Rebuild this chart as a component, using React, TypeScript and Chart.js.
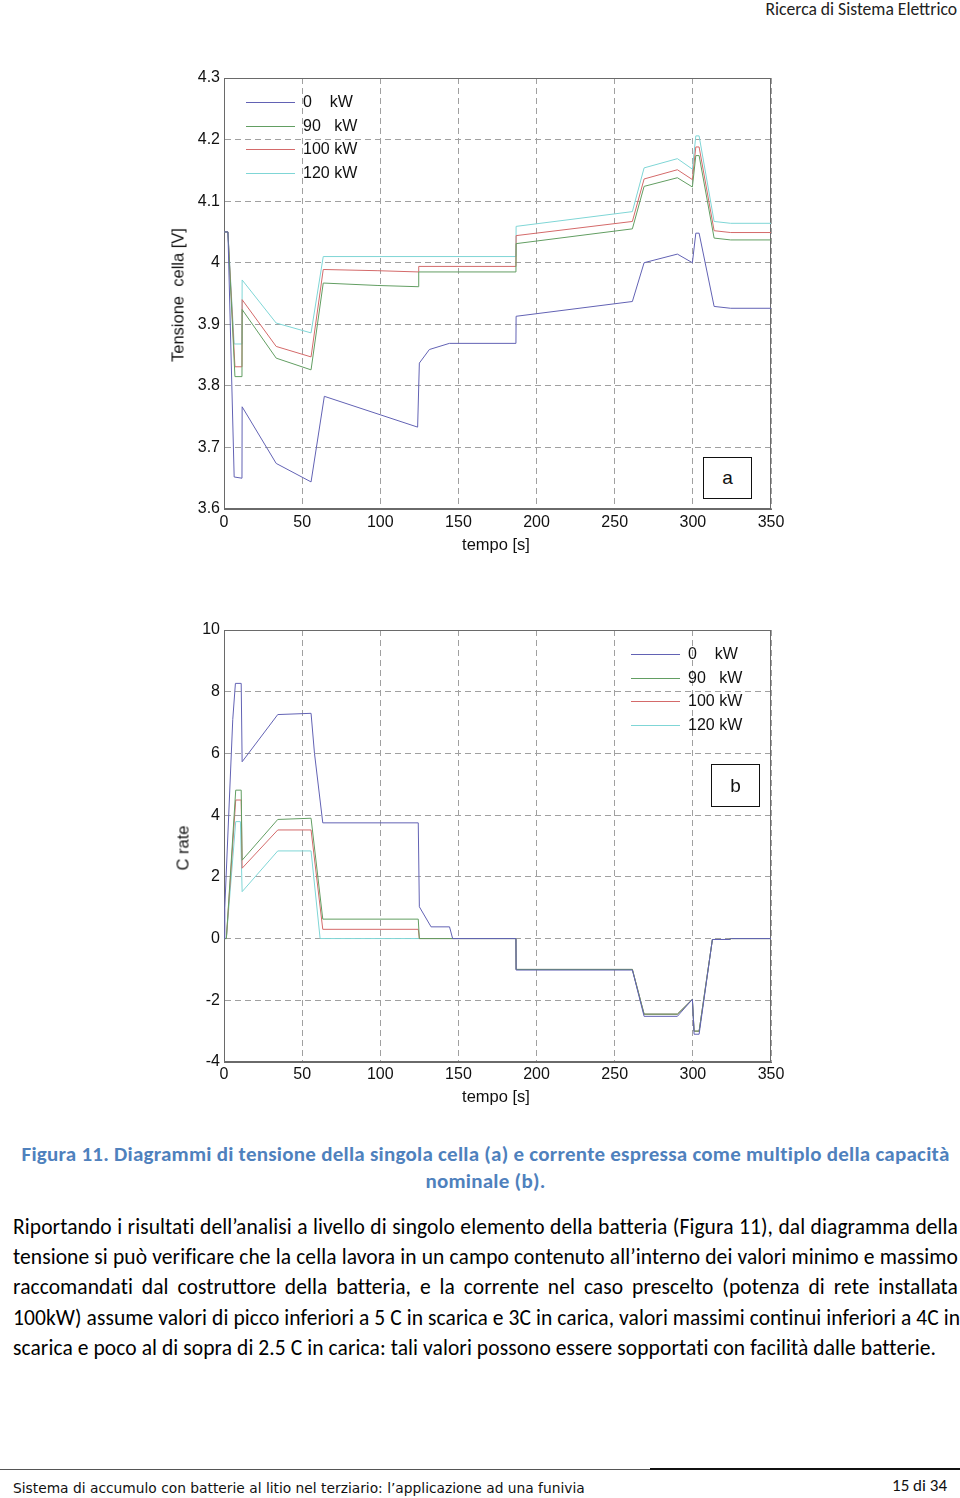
import React, { useEffect, useRef } from "react";
import { Chart, registerables } from "chart.js";

Chart.register(...registerables);

// ---------- shared ----------
const seriesLabels = ["0    kW", "90   kW", "100 kW", "120 kW"];
const seriesColors = ["#6262b4", "#629e62", "#d46a6a", "#7fd6d6"];
const xTicks = [0, 50, 100, 150, 200, 250, 300, 350];

// ---------- chart (a): cell voltage [V] ----------
const yTicksA = [3.6, 3.7, 3.8, 3.9, 4.0, 4.1, 4.2, 4.3];
const tA0 = [0, 2.5, 6.5, 11.5, 11.6, 33.4, 55.7, 64.2, 123.9, 125, 131.4, 144.2, 186.8, 186.9, 261.3, 268.8, 290.1, 299.7, 301.9, 304, 313.6, 324.2, 350];
const vA0 = [4.05, 4.05, 3.652, 3.65, 3.766, 3.674, 3.644, 3.783, 3.733, 3.837, 3.859, 3.869, 3.869, 3.913, 3.937, 4.0, 4.014, 4.0, 4.048, 4.048, 3.929, 3.926, 3.926];
const tA90 = [0, 2.5, 7, 11.5, 11.6, 33.4, 55.7, 63.5, 98.5, 124.5, 124.6, 186.8, 186.9, 261.3, 268.8, 290.1, 299.7, 301.9, 304, 313.6, 324.2, 350];
const vA90 = [4.05, 4.05, 3.815, 3.815, 3.924, 3.845, 3.826, 3.967, 3.963, 3.961, 3.985, 3.985, 4.031, 4.055, 4.124, 4.138, 4.123, 4.174, 4.174, 4.04, 4.037, 4.037];
const tA100 = [0, 2.5, 7, 11.5, 11.6, 33.4, 55.7, 63.5, 98.5, 124.5, 124.6, 186.8, 186.9, 261.3, 268.8, 290.1, 299.7, 301.9, 304, 313.6, 324.2, 350];
const vA100 = [4.05, 4.05, 3.831, 3.831, 3.94, 3.864, 3.847, 3.989, 3.987, 3.985, 3.994, 3.994, 4.044, 4.067, 4.136, 4.151, 4.135, 4.188, 4.188, 4.052, 4.049, 4.049];
const tA120 = [0, 2.5, 6.5, 11.5, 11.6, 33.4, 55.7, 63.5, 186.8, 186.9, 261.3, 268.8, 290.1, 299.7, 301.9, 304, 313.6, 324.2, 350];
const vA120 = [4.05, 4.05, 3.868, 3.868, 3.972, 3.902, 3.886, 4.01, 4.01, 4.059, 4.083, 4.154, 4.169, 4.152, 4.206, 4.206, 4.067, 4.064, 4.064];

// ---------- chart (b): C rate ----------
const yTicksB = [-4, -2, 0, 2, 4, 6, 8, 10];
const tB0 = [0, 0.5, 5.6, 7.3, 11, 11.6, 34.4, 55.7, 57.9, 63.2, 124.3, 125, 132.5, 144.3, 146.3, 186.8, 186.9, 261.3, 268.8, 290.1, 299.7, 300.8, 304, 312.5, 323.1, 324.6, 350];
const vB0 = [0, 1.0, 7.1, 8.27, 8.27, 5.73, 7.26, 7.3, 6.0, 3.75, 3.75, 1.03, 0.38, 0.38, 0, 0, -1.02, -1.02, -2.52, -2.52, -1.97, -3.1, -3.1, -0.03, -0.03, 0, 0];
const tB90 = [0, 1.5, 7.5, 11, 11.6, 34.4, 55.7, 63.2, 124.3, 125, 186.8, 186.9, 261.3, 268.8, 290.1, 299.7, 300.8, 304, 312.5, 323.1, 324.6, 350];
const vB90 = [0, 0, 4.81, 4.81, 2.54, 3.86, 3.9, 0.63, 0.63, 0, 0, -1.0, -1.0, -2.45, -2.45, -1.97, -3.0, -3.0, -0.03, -0.03, 0, 0];
const tB100 = [0, 1.5, 7.5, 11, 11.6, 34.4, 55.7, 63.2, 124.3, 125, 186.8, 186.9, 261.3, 268.8, 290.1, 299.7, 300.8, 304, 312.5, 323.1, 324.6, 350];
const vB100 = [0, 0, 4.49, 4.49, 2.28, 3.52, 3.52, 0.3, 0.3, 0, 0, -1.0, -1.0, -2.45, -2.45, -1.97, -3.0, -3.0, -0.03, -0.03, 0, 0];
const tB120 = [0, 1.5, 7.5, 10.5, 11.6, 34.4, 55.7, 61.5, 186.8, 186.9, 261.3, 268.8, 290.1, 299.7, 300.8, 304, 312.5, 323.1, 324.6, 350];
const vB120 = [0, 0, 3.79, 3.79, 1.52, 2.84, 2.84, 0, 0, -1.0, -1.0, -2.45, -2.45, -1.97, -3.0, -3.0, -0.03, -0.03, 0, 0];

const seriesA = [[tA0, vA0], [tA90, vA90], [tA100, vA100], [tA120, vA120]];
const seriesB = [[tB0, vB0], [tB90, vB90], [tB100, vB100], [tB120, vB120]];

const axisFont = { family: "'Liberation Sans', Arial, sans-serif", size: 16 };
const textFont = "'Liberation Sans', Arial, sans-serif";
const pageFont = "Carlito, Lato, 'Open Sans', sans-serif";

const framePlugin = {
  id: "frame",
  beforeDatasetsDraw(chart: any) {
    const { ctx, chartArea } = chart;
    const l = Math.round(chartArea.left) + 0.5;
    const t = Math.round(chartArea.top) + 0.5;
    const r = Math.round(chartArea.right) - 0.5;
    const b = Math.round(chartArea.bottom) - 0.5;
    ctx.save();
    ctx.strokeStyle = "#6a6a6a";
    ctx.lineWidth = 1;
    ctx.strokeRect(l, t, r - l, b - t);
    ctx.restore();
  },
};

type PlotProps = {
  left: number;
  top: number;
  width: number;
  height: number;
  padTop: number;
  padRight: number;
  yWidth: number;
  xHeight: number;
  xPad: number;
  yMin: number;
  yMax: number;
  yTicks: number[];
  series: number[][][];
};

function Plot(p: PlotProps) {
  const ref = useRef<HTMLCanvasElement>(null);
  useEffect(() => {
    const datasets = p.series.map(([ts, vs], i) => ({
      label: seriesLabels[i],
      data: ts.map((t, k) => ({ x: t, y: vs[k] })),
      borderColor: seriesColors[i],
      backgroundColor: seriesColors[i],
      borderWidth: 1,
      pointRadius: 0,
      tension: 0,
      fill: false,
    }));
    const chart = new Chart(ref.current as HTMLCanvasElement, {
      type: "line",
      data: { datasets },
      options: {
        animation: false,
        responsive: false,
        maintainAspectRatio: false,
        events: [],
        layout: { padding: { top: p.padTop, right: p.padRight, left: 0, bottom: 0 } },
        plugins: { legend: { display: false }, tooltip: { enabled: false }, title: { display: false } },
        scales: {
          x: {
            type: "linear",
            min: 0,
            max: 350,
            afterBuildTicks: (s: any) => {
              s.ticks = xTicks.map((v) => ({ value: v }));
            },
            afterFit: (s: any) => {
              s.height = p.xHeight;
            },
            ticks: {
              font: axisFont,
              color: "#111",
              padding: p.xPad,
              maxRotation: 0,
              autoSkip: false,
              callback: (v: any) => String(v),
            },
            grid: { color: "#a0a0a0", lineWidth: 1, drawTicks: false },
            border: { display: true, color: "#6a6a6a", dash: [6, 4] },
          },
          y: {
            type: "linear",
            min: p.yMin,
            max: p.yMax,
            afterBuildTicks: (s: any) => {
              s.ticks = p.yTicks.map((v) => ({ value: v }));
            },
            afterFit: (s: any) => {
              s.width = p.yWidth;
            },
            ticks: {
              font: axisFont,
              color: "#111",
              padding: 4,
              autoSkip: false,
              callback: (v: any) => String(Math.round(Number(v) * 10) / 10),
            },
            grid: { color: "#a0a0a0", lineWidth: 1, drawTicks: false },
            border: { display: true, color: "#6a6a6a", dash: [6, 4] },
          },
        },
      } as any,
      plugins: [framePlugin],
    });
    return () => chart.destroy();
  }, []);
  return (
    <canvas
      ref={ref}
      width={p.width}
      height={p.height}
      style={{ position: "absolute", left: p.left, top: p.top, width: p.width, height: p.height }}
    />
  );
}

function Legend({ left, top, gap }: { left: number; top: number; gap: number }) {
  return (
    <div style={{ position: "absolute", left, top }}>
      {seriesLabels.map((lab, i) => (
        <div key={lab} style={{ position: "absolute", left: 0, top: i * gap - 10, height: 20, width: 140 }}>
          <div style={{ position: "absolute", left: 0, top: 10, width: 49, height: 1, background: seriesColors[i] }} />
          <div
            style={{
              position: "absolute",
              left: 57,
              top: 0,
              lineHeight: "20px",
              fontFamily: textFont,
              fontSize: 16,
              color: "#111",
              whiteSpace: "pre",
            }}
          >
            {lab}
          </div>
        </div>
      ))}
    </div>
  );
}

function Tag({ left, top, w, h, text }: { left: number; top: number; w: number; h: number; text: string }) {
  return (
    <div
      style={{
        position: "absolute",
        left,
        top,
        width: w,
        height: h,
        boxSizing: "border-box",
        border: "1.5px solid #111",
        background: "#fff",
        display: "flex",
        alignItems: "center",
        justifyContent: "center",
        fontFamily: textFont,
        fontSize: 19,
        color: "#111",
      }}
    >
      {text}
    </div>
  );
}

function AxisText({ x, y, text, rotate }: { x: number; y: number; text: string; rotate?: boolean }) {
  return (
    <div
      style={{
        position: "absolute",
        left: x,
        top: y,
        transform: `translate(-50%, -50%)${rotate ? " rotate(-90deg)" : ""}`,
        fontFamily: textFont,
        fontSize: 16.5,
        color: "#111",
        whiteSpace: "pre",
        lineHeight: "19px",
      }}
    >
      {text}
    </div>
  );
}

const paragraphLines = [
  "Riportando i risultati dell’analisi a livello di singolo elemento della batteria (Figura 11), dal diagramma della",
  "tensione si può verificare che la cella lavora in un campo contenuto all’interno dei valori minimo e massimo",
  "raccomandati dal costruttore della batteria, e la corrente nel caso prescelto (potenza di rete installata",
  "100kW) assume valori di picco inferiori a 5 C in scarica e 3C in carica, valori massimi continui inferiori a 4C in",
  "scarica e poco al di sopra di 2.5 C in carica: tali valori possono essere sopportati con facilità dalle batterie.",
];

export default function App() {
  return (
    <div
      style={{
        position: "absolute",
        left: 0,
        top: 0,
        width: 960,
        height: 1498,
        background: "#fff",
        overflow: "hidden",
      }}
    >
      <div
        style={{
          position: "absolute",
          right: 3,
          top: -1,
          lineHeight: "20px",
          fontFamily: pageFont,
          fontSize: 17.6,
          color: "#222",
          whiteSpace: "nowrap",
        }}
      >
        Ricerca di Sistema Elettrico
      </div>

      {/* chart a */}
      <Plot
        left={150}
        top={60}
        width={660}
        height={500}
        padTop={18}
        padRight={39}
        yWidth={74}
        xHeight={51}
        xPad={4}
        yMin={3.6}
        yMax={4.3}
        yTicks={yTicksA}
        series={seriesA}
      />
      <Legend left={246} top={102} gap={23.5} />
      <Tag left={703} top={457} w={49} h={42} text="a" />
      <AxisText x={178} y={295} text={"Tensione  cella [V]"} rotate />
      <AxisText x={496} y={544} text="tempo [s]" />

      {/* chart b */}
      <Plot
        left={150}
        top={610}
        width={660}
        height={500}
        padTop={20}
        padRight={39}
        yWidth={74}
        xHeight={48}
        xPad={3}
        yMin={-4}
        yMax={10}
        yTicks={yTicksB}
        series={seriesB}
      />
      <Legend left={631} top={654} gap={23.5} />
      <Tag left={711} top={764} w={49} h={43} text="b" />
      <AxisText x={183} y={848} text="C rate" rotate />
      <AxisText x={496} y={1096} text="tempo [s]" />

      {/* caption */}
      <div
        style={{
          position: "absolute",
          left: 0,
          top: 1141,
          width: 971,
          textAlign: "center",
          fontFamily: pageFont,
          fontWeight: 700,
          fontSize: 21,
          letterSpacing: "0.25px",
          lineHeight: "27px",
          color: "#4f81bd",
        }}
      >
        <div style={{ whiteSpace: "nowrap" }}>
          Figura 11. Diagrammi di tensione della singola cella (a) e corrente espressa come multiplo della capacità
        </div>
        <div>nominale (b).</div>
      </div>

      {/* paragraph */}
      <div
        style={{
          position: "absolute",
          left: 13,
          top: 1212,
          width: 945,
          fontFamily: pageFont,
          fontSize: 21.5,
          letterSpacing: "0.08px",
          lineHeight: "30.2px",
          color: "#000",
        }}
      >
        {paragraphLines.map((ln, i) => (
          <div
            key={i}
            style={{
              whiteSpace: "nowrap",
              textAlign: i < paragraphLines.length - 1 ? "justify" : "left",
              textAlignLast: i < paragraphLines.length - 1 ? "justify" : "left",
            }}
          >
            {ln}
          </div>
        ))}
      </div>

      {/* footer */}
      <div style={{ position: "absolute", left: 0, top: 1469, width: 960, height: 1, background: "#555" }} />
      <div style={{ position: "absolute", left: 650, top: 1468, width: 310, height: 2, background: "#111" }} />
      <div
        style={{
          position: "absolute",
          left: 13,
          top: 1479,
          lineHeight: "18px",
          fontFamily: "'DejaVu Sans', sans-serif",
          fontSize: 13.8,
          color: "#111",
          whiteSpace: "nowrap",
        }}
      >
        Sistema di accumulo con batterie al litio nel terziario: l’applicazione ad una funivia
      </div>
      <div
        style={{
          position: "absolute",
          right: 13,
          top: 1476,
          lineHeight: "20px",
          fontFamily: pageFont,
          fontSize: 17,
          color: "#111",
          whiteSpace: "nowrap",
        }}
      >
        15 di 34
      </div>
    </div>
  );
}
